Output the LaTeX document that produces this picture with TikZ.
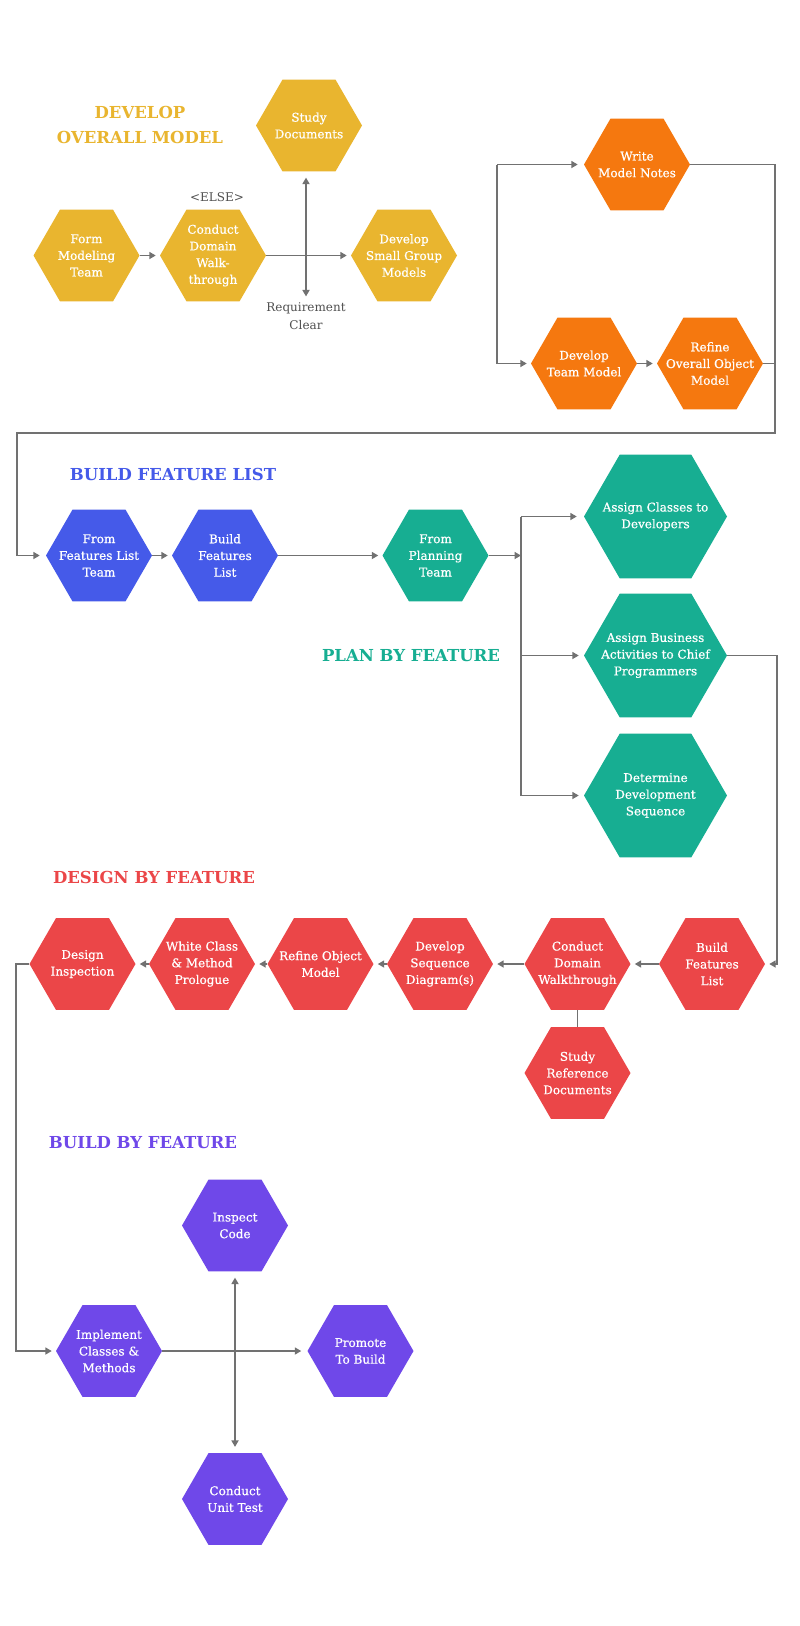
\documentclass[tikz,border=0pt]{standalone}
\usepackage{fontspec}
\setmainfont{DejaVu Serif}
\newfontfamily\hexfont{DejaVu Serif}[FakeBold=0.6]
\usetikzlibrary{shapes.geometric,arrows.meta}
\definecolor{cgold}{HTML}{E9B52F}
\definecolor{corange}{HTML}{F5780F}
\definecolor{cblue}{HTML}{455AE9}
\definecolor{cteal}{HTML}{17AE92}
\definecolor{cred}{HTML}{EB4648}
\definecolor{cpurple}{HTML}{6F48E9}
\definecolor{cline}{HTML}{717171}
\definecolor{ctext}{HTML}{505050}
\tikzset{
  hexbox/.style={regular polygon, regular polygon sides=6, minimum size=106pt, inner sep=0pt, fill=#1, draw=none},
  hextxt/.style={text=white, align=center, font=\hexfont\fontsize{12}{16.7}\selectfont, inner sep=0pt},
  conn/.style={draw=cline, line width=1.9pt},
  arr/.style={conn, -{Triangle[length=6.5pt,width=7pt]}, shorten >=4pt},
  ttl/.style={font=\fontsize{16.5}{25}\selectfont\bfseries, align=center, text=#1, inner sep=0pt},
  note/.style={font=\fontsize{12}{17.7}\selectfont, align=center, text=ctext, inner sep=0pt},
}
\begin{document}
\begin{tikzpicture}[x=1pt,y=-1pt]
\useasboundingbox[fill=white] (0,0) rectangle (800,1626);

% ---------- Develop overall model ----------
\node[ttl=cgold] (t1) at (140,124.5) {DEVELOP\\OVERALL MODEL};
\node[hexbox=cgold, label={[hextxt]center:{Form\\Modeling\\Team}}] (fmt) at (86.5,255.5) {};
\node[hexbox=cgold, label={[hextxt]center:{Conduct\\Domain\\Walk-\\through}}] (cdw) at (213,255.5) {};
\node[hexbox=cgold, label={[hextxt]center:{Study\\Documents}}] (sd) at (309,125.5) {};
\node[hexbox=cgold, label={[hextxt]center:{Develop\\Small Group\\Models}}] (dsg) at (404,255.5) {};
\node[note] (else) at (217,197) {\textless ELSE\textgreater};
\node[note] (rc) at (306,316) {Requirement\\Clear};
\coordinate (j1) at (306,255.5);
\draw[arr] (fmt.east) -- (cdw.west);
\draw[arr] (cdw.east) -- (dsg.west);
\draw[arr, shorten >=6pt] (j1) -- (sd.south -| j1);
\draw[arr, shorten >=6pt] (j1) -- (rc.north);

% ---------- orange loop ----------
\node[hexbox=corange, label={[hextxt]center:{Write\\Model Notes}}] (wmn) at (637,164.5) {};
\node[hexbox=corange, label={[hextxt]center:{Develop\\Team Model}}] (dtm) at (584,363.5) {};
\node[hexbox=corange, label={[hextxt]center:{Refine\\Overall Object\\Model}}] (rom) at (710,363.5) {};
\coordinate (oa) at (497,164.5);
\coordinate (ob) at (497,363.5);
\draw[conn] (oa) -- (ob);
\draw[arr, shorten >=6pt] (oa) -- (wmn.west);
\draw[arr] (ob) -- (dtm.west);
\draw[arr] (dtm.east) -- (rom.west);
\coordinate (or1) at (775,164.5);
\coordinate (or2) at (775,433);
\coordinate (or3) at (17,433);
\draw[conn] (rom.east) -- (rom.east -| or1);

% ---------- build feature list ----------
\node[ttl=cblue] (t2) at (173,474) {BUILD FEATURE LIST};
\node[hexbox=cblue, label={[hextxt]center:{From\\Features List\\Team}}] (fflt) at (99,555.5) {};
\node[hexbox=cblue, label={[hextxt]center:{Build\\Features\\List}}] (bfl) at (225,555.5) {};
\draw[arr, shorten >=6pt] (wmn.east) -- (or1) -- (or2) -- (or3) |- (fflt.west);
\draw[arr] (fflt.east) -- (bfl.west);

% ---------- plan by feature ----------
\node[ttl=cteal] (t3) at (411,656) {PLAN BY FEATURE};
\node[hexbox=cteal, label={[hextxt]center:{From\\Planning\\Team}}] (fpt) at (435.5,555.5) {};
\node[hexbox=cteal, minimum size=143pt, label={[hextxt]center:{Assign Classes to\\Developers}}] (acd) at (655.5,516.5) {};
\node[hexbox=cteal, minimum size=143pt, label={[hextxt]center:{Assign Business\\Activities to Chief\\Programmers}}] (aba) at (655.5,655.5) {};
\node[hexbox=cteal, minimum size=143pt, label={[hextxt]center:{Determine\\Development\\Sequence}}] (dds) at (655.5,795.5) {};
\draw[arr] (bfl.east) -- (fpt.west);
\coordinate (pb1) at (521,516.5);
\coordinate (pb2) at (521,555.5);
\coordinate (pb3) at (521,795.5);
\draw[arr, shorten >=0pt] (fpt.east) -- (pb2);
\draw[conn] (pb1) -- (pb3);
\draw[arr, shorten >=7pt] (pb1) -- (acd.west);
\draw[arr, shorten >=5pt] (aba.west -| pb1) -- (aba.west);
\draw[arr, shorten >=5pt] (pb3) -- (dds.west);

% ---------- design by feature ----------
\node[ttl=cred] (t4) at (154,877) {DESIGN BY FEATURE};
\begin{scope}[every node/.append style={minimum size=108pt}]
\node[hexbox=cred, label={[hextxt]center:{Build\\Features\\List}}] (bfl2) at (712,964) {};
\node[hexbox=cred, label={[hextxt]center:{Conduct\\Domain\\Walkthrough}}] (cdw2) at (577.5,964) {};
\node[hexbox=cred, label={[hextxt]center:{Develop\\Sequence\\Diagram(s)}}] (dsd) at (440,964) {};
\node[hexbox=cred, label={[hextxt]center:{Refine Object\\Model}}] (rob) at (320.5,964) {};
\node[hexbox=cred, label={[hextxt]center:{White Class\\\& Method\\Prologue}}] (wcm) at (202,964) {};
\node[hexbox=cred, label={[hextxt]center:{Design\\Inspection}}] (din) at (82.5,964) {};
\node[hexbox=cred, label={[hextxt]center:{Study\\Reference\\Documents}}] (srd) at (577.5,1073) {};
\end{scope}
\coordinate (rr) at (777,655.5);
\draw[arr] (aba.east) -- (rr) |- (bfl2.east);
\draw[arr] (bfl2.west) -- (cdw2.east);
\draw[arr] (cdw2.west) -- (dsd.east);
\draw[arr] (dsd.west) -- (rob.east);
\draw[arr] (rob.west) -- (wcm.east);
\draw[arr] (wcm.west) -- (din.east);
\draw[conn] (cdw2.south) -- (srd.north);

% ---------- build by feature ----------
\node[ttl=cpurple] (t5) at (143,1143) {BUILD BY FEATURE};
\node[hexbox=cpurple, label={[hextxt]center:{Implement\\Classes \&\\Methods}}] (icm) at (109,1351) {};
\node[hexbox=cpurple, label={[hextxt]center:{Inspect\\Code}}] (ic) at (235,1225.5) {};
\node[hexbox=cpurple, label={[hextxt]center:{Promote\\To Build}}] (pbn) at (360.5,1351) {};
\node[hexbox=cpurple, label={[hextxt]center:{Conduct\\Unit Test}}] (cut) at (235,1499) {};
\coordinate (lb) at (16,964);
\draw[arr] (din.west) -- (lb) |- (icm.west);
\coordinate (j2) at (235,1351);
\draw[arr, shorten >=6pt] (icm.east) -- (pbn.west);
\draw[arr, shorten >=6pt] (j2) -- (ic.south);
\draw[arr, shorten >=6pt] (j2) -- (cut.north);
\end{tikzpicture}
\end{document}
